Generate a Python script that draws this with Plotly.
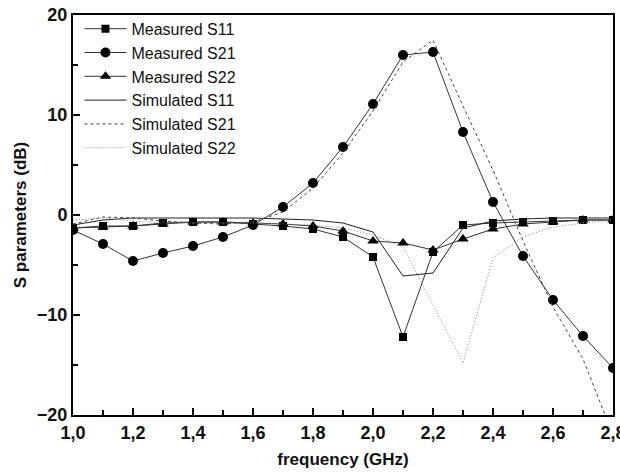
import plotly.graph_objects as go

freq = [1.0, 1.1, 1.2, 1.3, 1.4, 1.5, 1.6, 1.7, 1.8, 1.9, 2.0,
        2.1, 2.2, 2.3, 2.4, 2.5, 2.6, 2.7, 2.8]

meas_s11 = [-1.3, -1.1, -1.1, -0.8, -0.7, -0.7, -0.9, -1.1, -1.4, -2.2, -4.2,
            -12.2, -3.7, -1.0, -0.8, -0.7, -0.6, -0.5, -0.5]
meas_s21 = [-1.5, -2.9, -4.6, -3.8, -3.1, -2.2, -1.0, 0.8, 3.2, 6.8, 11.1,
            16.0, 16.3, 8.3, 1.3, -4.1, -8.5, -12.1, -15.3]
meas_s22 = [-1.3, -1.2, -1.1, -0.9, -0.7, -0.7, -0.8, -0.9, -1.1, -1.6, -2.6,
            -2.8, -3.5, -2.4, -1.4, -0.9, -0.7, -0.5, -0.5]

sim_s11 = [-1.0, -0.5, -0.3, -0.3, -0.3, -0.3, -0.3, -0.4, -0.5, -0.8, -1.7,
           -6.1, -5.8, -1.3, -0.6, -0.4, -0.3, -0.3, -0.3]
sim_s21 = [-0.9, -0.2, -0.3, -0.6, -0.8, -0.9, -0.7, 0.3, 2.7, 6.2, 10.4,
           15.3, 17.5, 10.9, 4.5, -2.6, -9.2, -14.4, -22.0]
sim_s22 = [-0.5, -0.3, -0.6, -0.8, -0.8, -0.8, -0.8, -0.9, -1.0, -1.3, -2.0,
           -3.2, -9.0, -14.8, -4.3, -2.2, -1.2, -0.8, -0.5]

x_ticks = [1.0, 1.2, 1.4, 1.6, 1.8, 2.0, 2.2, 2.4, 2.6, 2.8]
x_labels = ["1,0", "1,2", "1,4", "1,6", "1,8", "2,0", "2,2", "2,4", "2,6", "2,8"]
y_ticks = [-20, -10, 0, 10, 20]

fig = go.Figure()

line_col = "#333333"
fig.add_trace(go.Scatter(x=freq, y=meas_s11, name="Measured S11", mode="lines+markers",
                         line=dict(color=line_col, width=1),
                         marker=dict(symbol="square", size=8, color="black")))
fig.add_trace(go.Scatter(x=freq, y=meas_s21, name="Measured S21", mode="lines+markers",
                         line=dict(color=line_col, width=1),
                         marker=dict(symbol="circle", size=10, color="black")))
fig.add_trace(go.Scatter(x=freq, y=meas_s22, name="Measured S22", mode="lines+markers",
                         line=dict(color=line_col, width=1),
                         marker=dict(symbol="triangle-up", size=10, color="black")))
fig.add_trace(go.Scatter(x=freq, y=sim_s11, name="Simulated S11", mode="lines",
                         line=dict(color="#222222", width=1)))
fig.add_trace(go.Scatter(x=freq, y=sim_s21, name="Simulated S21", mode="lines",
                         line=dict(color="#444444", width=1, dash="3px,3px")))
fig.add_trace(go.Scatter(x=freq, y=sim_s22, name="Simulated S22", mode="lines",
                         line=dict(color="#888888", width=1, dash="1px,2px")))

tick_font = dict(family="Liberation Sans, Arial", size=18, color="#111111", weight="bold")
title_font = dict(family="Liberation Sans, Arial", size=17, color="#111111", weight="bold")

axis_common = dict(
    showline=True, linecolor="black", linewidth=2, mirror=True,
    ticks="inside", ticklen=7, tickwidth=1.5, tickcolor="black",
    showgrid=False, zeroline=False, tickfont=tick_font,
    ticklabeloverflow="allow", automargin=False,
)

fig.update_xaxes(range=[1.0, 2.8], tickmode="array", tickvals=x_ticks, ticktext=x_labels,
                 minor=dict(dtick=0.1, tick0=1.0, ticks="inside", ticklen=5, tickcolor="black"),
                 title=dict(text="frequency (GHz)", standoff=12, font=title_font),
                 **axis_common)
fig.update_yaxes(range=[-20, 20], tickmode="array", tickvals=y_ticks,
                 minor=dict(dtick=5, tick0=-20, ticks="inside", ticklen=5, tickcolor="black"),
                 title=dict(text="S parameters (dB)", standoff=6, font=title_font),
                 **axis_common)

fig.update_layout(
    width=620, height=474,
    margin=dict(l=73, r=7, t=15, b=59, autoexpand=False),
    paper_bgcolor="white", plot_bgcolor="white",
    legend=dict(x=0.012, y=1.008, xanchor="left", yanchor="top",
                bgcolor="rgba(0,0,0,0)", itemwidth=42,
                font=dict(family="Liberation Sans, Arial", size=16, color="#111111"),
                tracegroupgap=0),
    showlegend=True,
)

fig.write_html("out.html")
